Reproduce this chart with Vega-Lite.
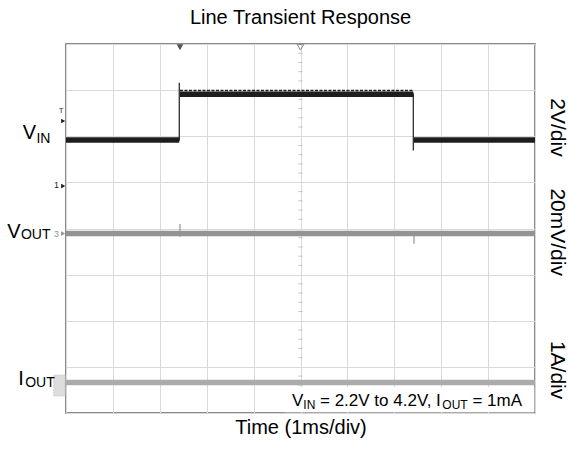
{
  "$schema": "https://vega.github.io/schema/vega-lite/v6.json",
  "width": 469,
  "height": 369,
  "autosize": {"type": "none"},
  "padding": {"left": 66, "top": 44, "right": 34, "bottom": 58},
  "background": "white",
  "config": {
    "view": {"stroke": "#666666", "strokeWidth": 1.5},
    "font": "Liberation Sans",
    "axis": {"grid": true, "gridColor": "#d9d9d9", "gridWidth": 1, "labels": false, "ticks": false, "domain": false,
      "titleFontSize": 20, "titleFont": "Liberation Sans", "titleFontWeight": "normal", "titleColor": "#000000"},
    "axisX": {"tickCount": 10, "titlePadding": 4},
    "axisY": {"tickCount": 8}
  },
  "title": {"text": "Line Transient Response", "fontSize": 20, "font": "Liberation Sans", "fontWeight": "normal", "color": "#000000", "offset": 14},
  "datasets": {
    "bands": [
      {"trace": "VIN", "t0": 0, "t1": 2.415, "v": 5.92},
      {"trace": "VIN", "t0": 2.43, "t1": 7.405, "v": 6.91},
      {"trace": "VIN", "t0": 7.42, "t1": 10, "v": 5.92},
      {"trace": "VOUT", "t0": 0, "t1": 10, "v": 3.89},
      {"trace": "IOUT", "t0": 0, "t1": 10, "v": 0.66}
    ],
    "edges": [
      {"trace": "VIN", "t": 2.415, "v0": 5.9, "v1": 7.16},
      {"trace": "VIN", "t": 7.405, "v0": 5.69, "v1": 6.93},
      {"trace": "VOUT", "t": 2.43, "v0": 3.82, "v1": 4.1},
      {"trace": "VOUT", "t": 7.42, "v0": 3.67, "v1": 3.9}
    ],
    "vticks": [
      {"v": 0.2}, {"v": 0.4}, {"v": 0.6}, {"v": 0.8}, {"v": 1.2}, {"v": 1.4}, {"v": 1.6}, {"v": 1.8},
      {"v": 2.2}, {"v": 2.4}, {"v": 2.6}, {"v": 2.8}, {"v": 3.2}, {"v": 3.4}, {"v": 3.6}, {"v": 3.8},
      {"v": 4.2}, {"v": 4.4}, {"v": 4.6}, {"v": 4.8}, {"v": 5.2}, {"v": 5.4}, {"v": 5.6}, {"v": 5.8},
      {"v": 6.2}, {"v": 6.4}, {"v": 6.6}, {"v": 6.8}, {"v": 7.2}, {"v": 7.4}, {"v": 7.6}, {"v": 7.8}
    ],
    "units": [
      {"label": "2V/div", "v": 6.19},
      {"label": "20mV/div", "v": 3.92},
      {"label": "1A/div", "v": 0.93}
    ]
  },
  "layer": [
    {
      "data": {"name": "bands"},
      "mark": {"type": "rule", "strokeWidth": 5.5, "strokeCap": "butt"},
      "encoding": {
        "x": {"field": "t0", "type": "quantitative", "title": "Time (1ms/div)", "scale": {"domain": [0, 10], "nice": false, "zero": false}},
        "x2": {"field": "t1"},
        "y": {"field": "v", "type": "quantitative", "title": null, "scale": {"domain": [0, 8], "nice": false, "zero": false}},
        "color": {"field": "trace", "type": "nominal", "scale": {"domain": ["VIN", "VOUT", "IOUT"], "range": ["#1e1e1e", "#939393", "#ababab"]}, "legend": null}
      }
    },
    {
      "data": {"name": "vticks"},
      "mark": {"type": "rule", "color": "#c4c4c4", "strokeWidth": 1},
      "encoding": {
        "x": {"datum": 4.955, "type": "quantitative", "title": "Time (1ms/div)"},
        "x2": {"datum": 5.045},
        "y": {"field": "v", "type": "quantitative", "title": null}
      }
    },
    {
      "data": {"values": [{"t0": 2.43, "t1": 7.405, "v": 6.99}]},
      "mark": {"type": "rule", "strokeWidth": 1.5, "color": "#1e1e1e", "strokeDash": [3, 1.5], "strokeCap": "butt"},
      "encoding": {
        "x": {"field": "t0", "type": "quantitative", "title": "Time (1ms/div)"},
        "x2": {"field": "t1"},
        "y": {"field": "v", "type": "quantitative", "title": null}
      }
    },
    {
      "data": {"name": "edges"},
      "mark": {"type": "rule", "strokeWidth": 1.2},
      "encoding": {
        "x": {"field": "t", "type": "quantitative", "title": "Time (1ms/div)"},
        "y": {"field": "v0", "type": "quantitative", "title": null},
        "y2": {"field": "v1"},
        "color": {"field": "trace", "type": "nominal", "legend": null}
      }
    },
    {
      "data": {"values": [{"x0": 4.67, "x1": 9.985, "y0": 0.015, "y1": 0.56}]},
      "mark": {"type": "rect", "color": "white"},
      "encoding": {
        "x": {"field": "x0", "type": "quantitative", "title": "Time (1ms/div)"},
        "x2": {"field": "x1"},
        "y": {"field": "y0", "type": "quantitative", "title": null},
        "y2": {"field": "y1"}
      }
    },
    {
      "data": {"values": [{"mark": "trig", "t": 2.43}]},
      "mark": {"type": "point", "shape": "triangle-down", "filled": true, "size": 45, "color": "#555555", "opacity": 1},
      "encoding": {
        "x": {"field": "t", "type": "quantitative", "title": "Time (1ms/div)"},
        "y": {"datum": 7.93, "type": "quantitative", "title": null}
      }
    },
    {
      "data": {"values": [{"mark": "center", "t": 5}]},
      "mark": {"type": "point", "shape": "triangle-down", "filled": false, "size": 45, "color": "#888888", "strokeWidth": 1, "opacity": 1},
      "encoding": {
        "x": {"field": "t", "type": "quantitative", "title": "Time (1ms/div)"},
        "y": {"datum": 7.93, "type": "quantitative", "title": null}
      }
    },
    {
      "data": {"values": [{"m": "T", "v": 6.33, "c": "k"}, {"m": "1", "v": 4.92, "c": "k"}, {"m": "3", "v": 3.89, "c": "g"}]},
      "mark": {"type": "point", "shape": "triangle-right", "filled": true, "size": 22, "opacity": 1},
      "encoding": {
        "x": {"datum": -0.06, "type": "quantitative", "title": "Time (1ms/div)"},
        "y": {"field": "v", "type": "quantitative", "title": null},
        "color": {"field": "c", "type": "nominal", "scale": {"domain": ["k", "g"], "range": ["#1e1e1e", "#999999"]}, "legend": null}
      }
    },
    {
      "data": {"values": [{"m": "T", "v": 6.55}]},
      "mark": {"type": "text", "fontSize": 8, "color": "#333333", "align": "center", "baseline": "middle"},
      "encoding": {
        "x": {"datum": -0.1, "type": "quantitative", "title": "Time (1ms/div)"},
        "y": {"field": "v", "type": "quantitative", "title": null},
        "text": {"field": "m"}
      }
    },
    {
      "data": {"values": [{"m": "1", "v": 4.95, "c": "k"}, {"m": "3", "v": 3.89, "c": "g"}]},
      "mark": {"type": "text", "fontSize": 9, "align": "center", "baseline": "middle"},
      "encoding": {
        "x": {"datum": -0.2, "type": "quantitative", "title": "Time (1ms/div)"},
        "y": {"field": "v", "type": "quantitative", "title": null},
        "text": {"field": "m"},
        "color": {"field": "c", "type": "nominal", "legend": null}
      }
    },
    {
      "data": {"values": [{"x0": -0.26, "x1": -0.02, "y0": 0.37, "y1": 0.82}]},
      "mark": {"type": "rect", "color": "#dddddd", "stroke": "#cfcfcf", "strokeWidth": 0.8},
      "encoding": {
        "x": {"field": "x0", "type": "quantitative", "title": "Time (1ms/div)"},
        "x2": {"field": "x1"},
        "y": {"field": "y0", "type": "quantitative", "title": null},
        "y2": {"field": "y1"}
      }
    },
    {
      "data": {"values": [{"main": "V", "v": 5.94}]},
      "mark": {"type": "text", "fontSize": 20, "align": "right", "baseline": "alphabetic", "color": "#000000"},
      "encoding": {
        "x": {"datum": -0.64, "type": "quantitative", "title": "Time (1ms/div)"},
        "y": {"field": "v", "type": "quantitative", "title": null},
        "text": {"field": "main"}
      }
    },
    {
      "data": {"values": [{"sub": "IN", "v": 5.86}]},
      "mark": {"type": "text", "fontSize": 14, "align": "left", "baseline": "alphabetic", "color": "#000000"},
      "encoding": {
        "x": {"datum": -0.63, "type": "quantitative", "title": "Time (1ms/div)"},
        "y": {"field": "v", "type": "quantitative", "title": null},
        "text": {"field": "sub"}
      }
    },
    {
      "data": {"values": [{"main": "V", "v": 3.8}]},
      "mark": {"type": "text", "fontSize": 20, "align": "right", "baseline": "alphabetic", "color": "#000000"},
      "encoding": {
        "x": {"datum": -0.97, "type": "quantitative", "title": "Time (1ms/div)"},
        "y": {"field": "v", "type": "quantitative", "title": null},
        "text": {"field": "main"}
      }
    },
    {
      "data": {"values": [{"sub": "OUT", "v": 3.77}]},
      "mark": {"type": "text", "fontSize": 14, "align": "left", "baseline": "alphabetic", "color": "#000000"},
      "encoding": {
        "x": {"datum": -0.96, "type": "quantitative", "title": "Time (1ms/div)"},
        "y": {"field": "v", "type": "quantitative", "title": null},
        "text": {"field": "sub"}
      }
    },
    {
      "data": {"values": [{"main": "I", "v": 0.61}]},
      "mark": {"type": "text", "fontSize": 20, "align": "right", "baseline": "alphabetic", "color": "#000000"},
      "encoding": {
        "x": {"datum": -0.9, "type": "quantitative", "title": "Time (1ms/div)"},
        "y": {"field": "v", "type": "quantitative", "title": null},
        "text": {"field": "main"}
      }
    },
    {
      "data": {"values": [{"sub": "OUT", "v": 0.57}]},
      "mark": {"type": "text", "fontSize": 14, "align": "left", "baseline": "alphabetic", "color": "#000000"},
      "encoding": {
        "x": {"datum": -0.87, "type": "quantitative", "title": "Time (1ms/div)"},
        "y": {"field": "v", "type": "quantitative", "title": null},
        "text": {"field": "sub"}
      }
    },
    {
      "data": {"name": "units"},
      "mark": {"type": "text", "fontSize": 21, "angle": 90, "align": "center", "baseline": "middle", "color": "#000000"},
      "encoding": {
        "x": {"datum": 10.47, "type": "quantitative", "title": "Time (1ms/div)"},
        "y": {"field": "v", "type": "quantitative", "title": null},
        "text": {"field": "label"}
      }
    },
    {
      "data": {"values": [
        {"piece": "V", "x": 4.819},
        {"piece": "= 2.2V to 4.2V, I", "x": 5.416},
        {"piece": "= 1mA", "x": 8.665}
      ]},
      "mark": {"type": "text", "fontSize": 17, "align": "left", "baseline": "alphabetic", "color": "#000000"},
      "encoding": {
        "x": {"field": "x", "type": "quantitative", "title": "Time (1ms/div)"},
        "y": {"datum": 0.152, "type": "quantitative", "title": null},
        "text": {"field": "piece"}
      }
    },
    {
      "data": {"values": [
        {"piece": "IN", "x": 5.061},
        {"piece": "OUT", "x": 8.025}
      ]},
      "mark": {"type": "text", "fontSize": 12, "align": "left", "baseline": "alphabetic", "color": "#000000"},
      "encoding": {
        "x": {"field": "x", "type": "quantitative", "title": "Time (1ms/div)"},
        "y": {"datum": 0.087, "type": "quantitative", "title": null},
        "text": {"field": "piece"}
      }
    }
  ]
}
